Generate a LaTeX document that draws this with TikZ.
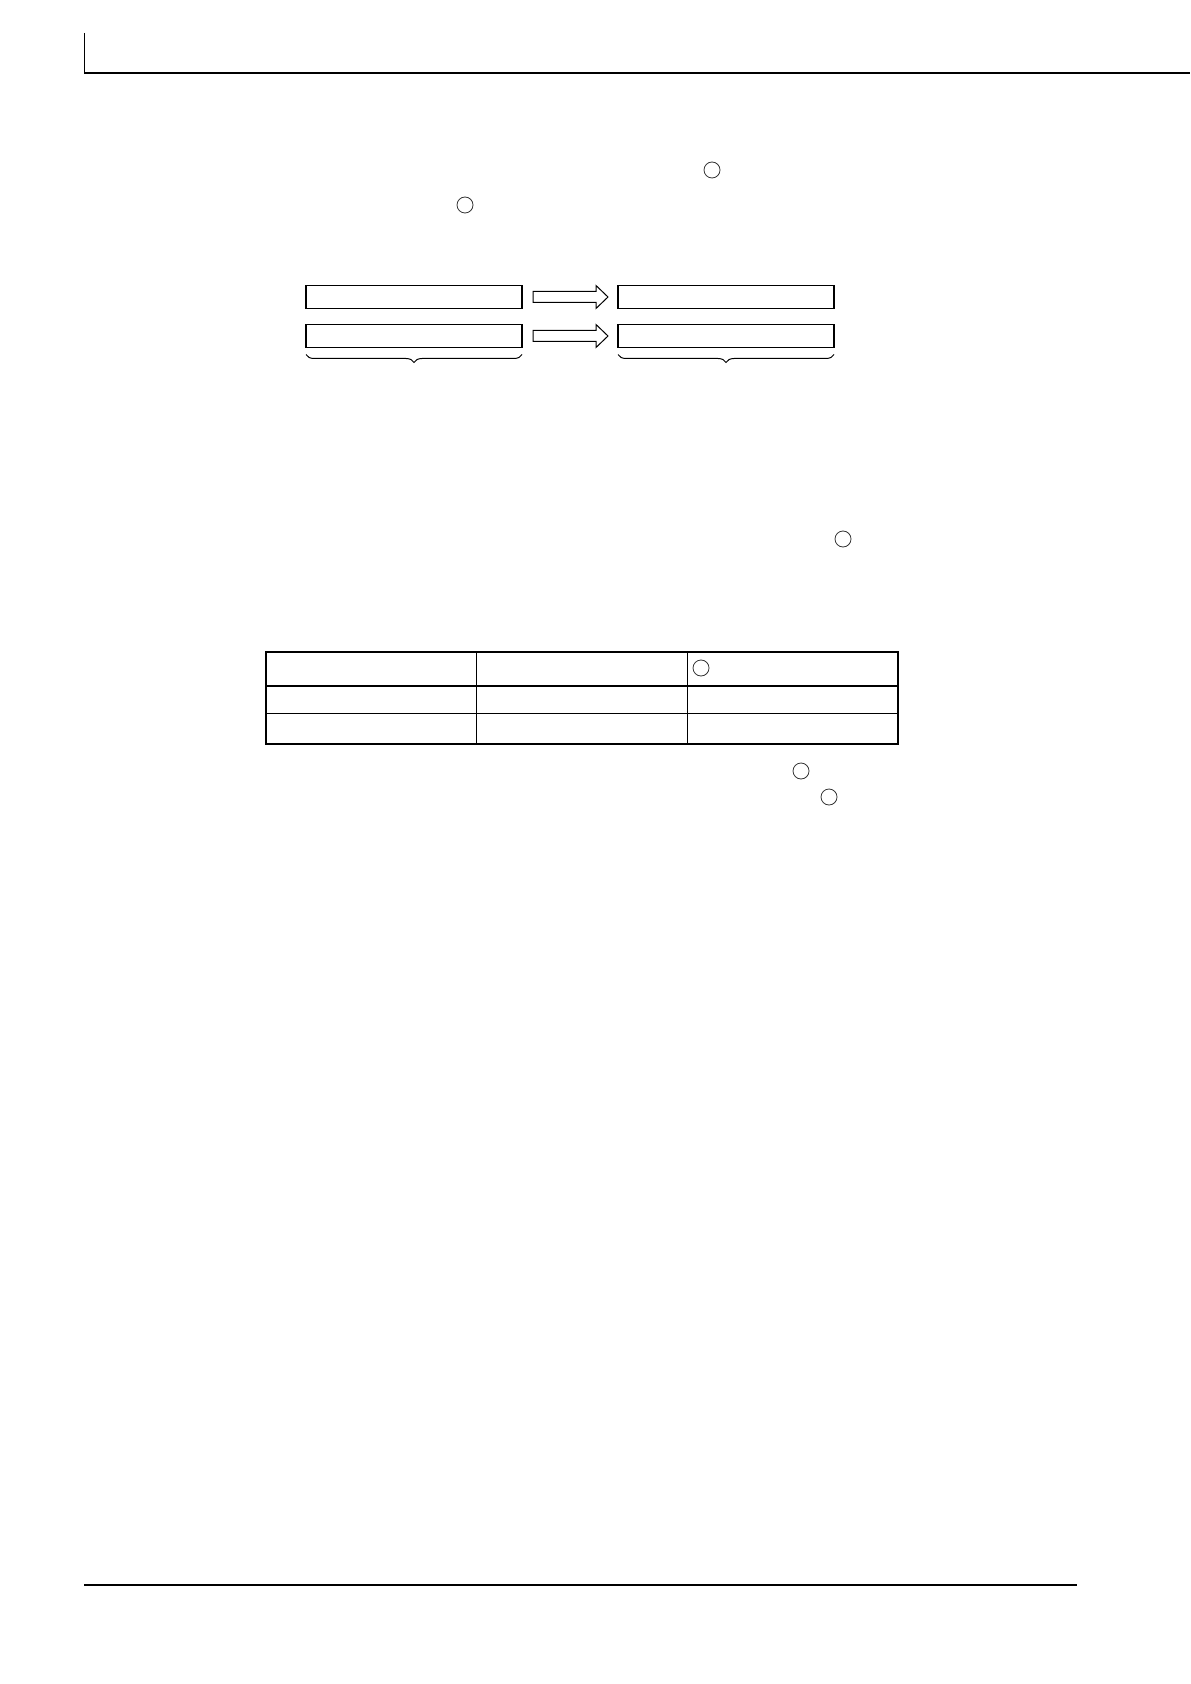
\documentclass[tikz,border=0pt]{standalone}
\usetikzlibrary{positioning, calc, decorations.pathreplacing}

\begin{document}
\begin{tikzpicture}[
        x=0.5pt, y=-0.5pt,
        every node/.style={inner sep=0pt, outer sep=0pt},
        regbox/.style={draw, line width=0.9pt, minimum width=108pt, minimum height=11.5pt},
        mark circle/.style={draw, circle, line width=0.4pt, minimum size=8pt, draw=black!80},
        hollow/.style={draw, line width=0.5pt, fill=white},
        bracelow/.style={decorate, decoration={brace, mirror, amplitude=4pt}, line width=0.5pt}
        ]

        % Page frame
        \useasboundingbox (0,0) rectangle (1190,1684);
        \coordinate (headtop) at (84,33);
        \coordinate (headcorner) at (84,73);
        \coordinate (headend) at (1190,73);
        \draw [line width=0.4pt] (headtop) -- (headcorner);
        \draw [line width=0.8pt] (headcorner) -- (headend);

        % Marks in the text
        \node[mark circle] (m1) at (712,170) {};
        \node[mark circle] (m2) at (465,205) {};

        % Registers
        \node[regbox] (src1) at (414,297) {};
        \node[regbox] (src2) at (414,336) {};
        \node[regbox] (dst1) at (726,297) {};
        \node[regbox] (dst2) at (726,336) {};

        % Arrows
        \foreach \r in {1,2} {
            \draw [hollow] ($(src\r.east)+(11,-5.5)$) -- ++(63,0) -- ++(0,-6)
                -- ($(dst\r.west)+(-10,0)$)
                -- ($(src\r.east)+(74,11.5)$) -- ++(0,-6) -- ++(-63,0) -- cycle;
        }

        % Braces
        \draw [bracelow] ($(src2.south west)+(0,7)$) -- ($(src2.south east)+(0,7)$);
        \draw [bracelow] ($(dst2.south west)+(0,7)$) -- ($(dst2.south east)+(0,7)$);

        \node[mark circle] (m3) at (843,539) {};

        % Table
        \node[draw, line width=1.3pt, minimum width=316pt, minimum height=46pt] (tbl) at (582,698) {};
        \draw [line width=1.3pt] ($(tbl.north west)+(0,34)$) -- ($(tbl.north east)+(0,34)$);
        \draw [line width=0.5pt] ($(tbl.north west)+(0,61.5)$) -- ($(tbl.north east)+(0,61.5)$);
        \draw [line width=0.5pt] ($(tbl.north west)!1/3!(tbl.north east)$) -- ($(tbl.south west)!1/3!(tbl.south east)$);
        \draw [line width=0.5pt] ($(tbl.north west)!2/3!(tbl.north east)$) -- ($(tbl.south west)!2/3!(tbl.south east)$);
        \node[mark circle] (m4) at (701,668) {};

        \node[mark circle] (m5) at (801,771) {};
        \node[mark circle] (m6) at (829,797) {};

        % Footer
        \coordinate (footl) at (84,1585);
        \coordinate (footr) at (1077,1585);
        \draw [line width=1.1pt] (footl) -- (footr);
    \end{tikzpicture}
\end{document}
